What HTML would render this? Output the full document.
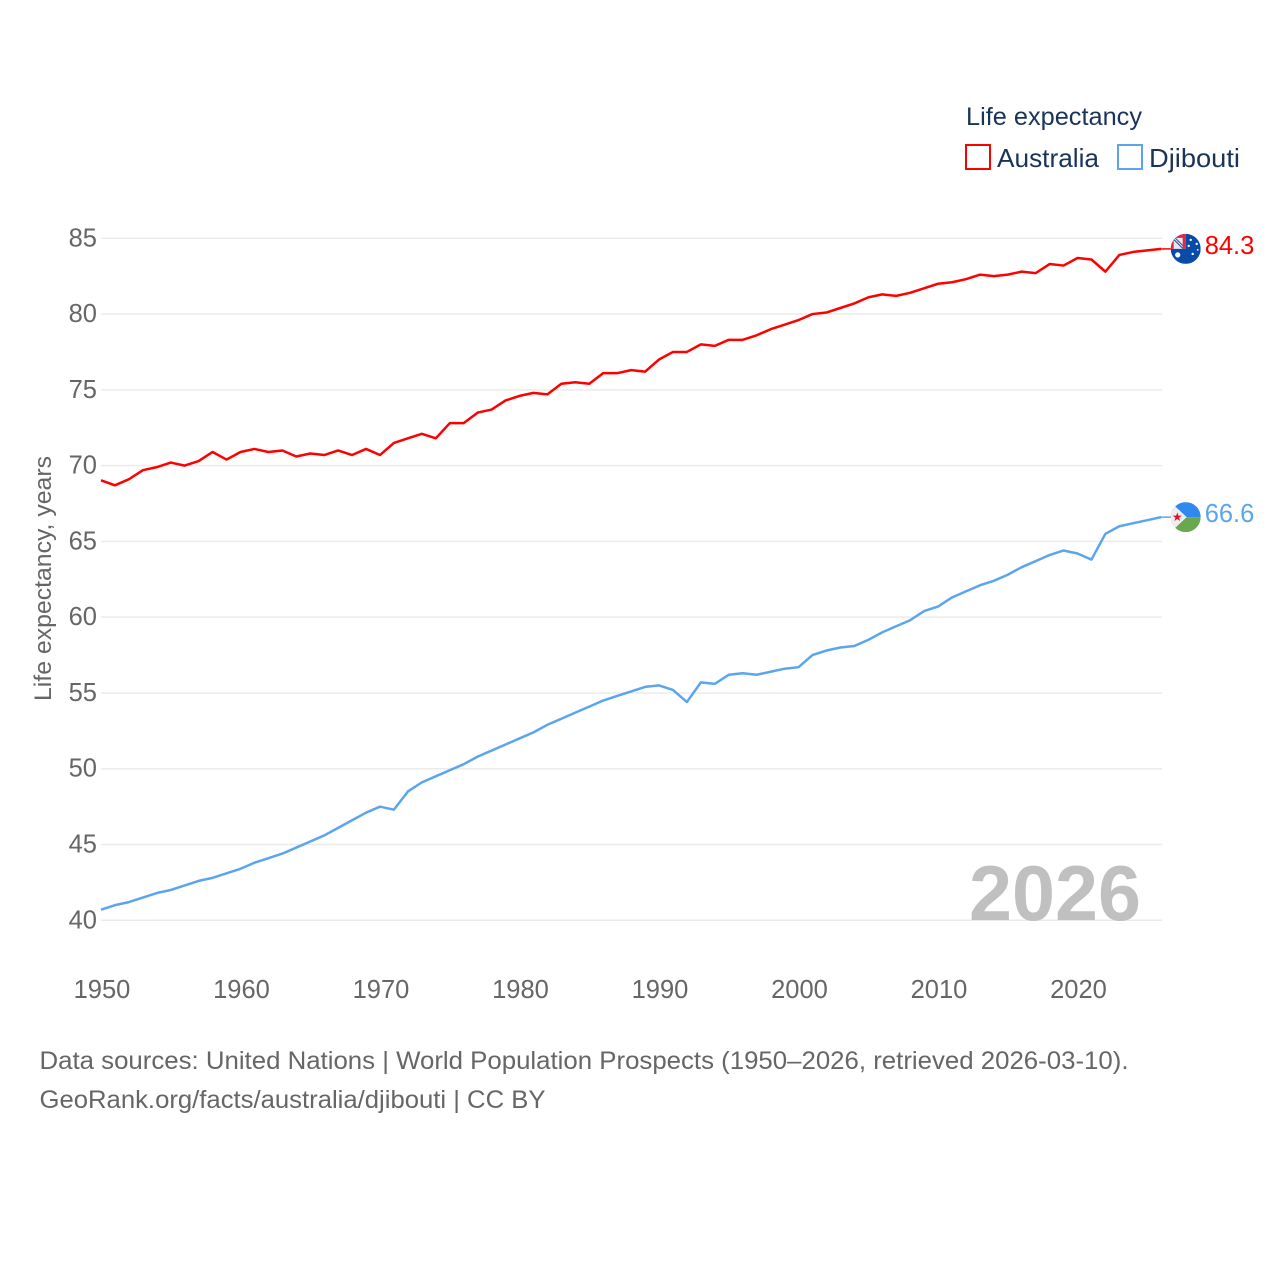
<!DOCTYPE html>
<html lang="en">
<head>
<meta charset="utf-8">
<title>Life expectancy: Australia and Djibouti</title>
<style>
html,body{margin:0;padding:0;background:#fff;width:1280px;height:1280px;overflow:hidden}
svg{display:block}
text{font-family:"Liberation Sans",sans-serif}
</style>
</head>
<body>
<svg id="chart" xmlns="http://www.w3.org/2000/svg" width="1280" height="1280" viewBox="0 0 1280 1280">
  <defs>
    <clipPath id="clip-au"><circle id="clip-au-circle" r="15"></circle></clipPath>
    <clipPath id="clip-dj"><circle id="clip-dj-circle" r="15"></circle></clipPath>
  </defs>
  <g id="grid"></g>
  <g id="ticks-y"></g>
  <g id="ticks-x"></g>
  <text transform="translate(51,701) rotate(-90)" font-size="24" fill="#666" textLength="245" lengthAdjust="spacingAndGlyphs">Life expectancy, years</text>
  <text x="969" y="920" font-size="78" font-weight="700" fill="#c0c0c0" textLength="172" lengthAdjust="spacingAndGlyphs">2026</text>
  <g id="series"></g>
  <g id="flag-au" clip-path="url(#clip-au)"></g>
  <g id="flag-dj" clip-path="url(#clip-dj)"></g>
  <g id="end-labels"></g>
  <g>
    <text x="966" y="125" font-size="25" fill="#1a3358" textLength="176" lengthAdjust="spacingAndGlyphs">Life expectancy</text>
    <g>
      <rect x="966" y="145" width="24" height="24" fill="#fff" stroke="#ff0000" stroke-width="2"></rect>
      <text x="997" y="167" font-size="26" fill="#1a3358" textLength="102" lengthAdjust="spacingAndGlyphs">Australia</text>
    </g>
    <g>
      <rect x="1118" y="145" width="24" height="24" fill="#fff" stroke="#5ca5ee" stroke-width="2"></rect>
      <text x="1149" y="167" font-size="26" fill="#1a3358" textLength="91" lengthAdjust="spacingAndGlyphs">Djibouti</text>
    </g>
  </g>
  <text x="39.5" y="1069" font-size="25" fill="#666" textLength="1089" lengthAdjust="spacingAndGlyphs">Data sources: United Nations | World Population Prospects (1950–2026, retrieved 2026-03-10).</text>
  <text x="39.5" y="1108" font-size="25" fill="#666" textLength="506" lengthAdjust="spacingAndGlyphs">GeoRank.org/facts/australia/djibouti | CC BY</text>
</svg>
<script>
const startYear = 1950;
const australiaValues = [69.03,68.7,69.1,69.7,69.9,70.2,70.0,70.3,70.9,70.4,70.9,71.1,70.9,71.0,70.6,70.8,70.7,71.0,70.7,71.1,70.7,71.5,71.8,72.1,71.8,72.8,72.8,73.5,73.7,74.3,74.6,74.8,74.7,75.4,75.5,75.4,76.1,76.1,76.3,76.2,77.0,77.5,77.5,78.0,77.9,78.3,78.3,78.6,79.0,79.3,79.6,80.0,80.1,80.4,80.7,81.1,81.3,81.2,81.4,81.7,82.0,82.1,82.3,82.6,82.5,82.6,82.8,82.7,83.3,83.2,83.7,83.6,82.8,83.9,84.1,84.2,84.3];
const djiboutiValues = [40.7,41.0,41.2,41.5,41.8,42.0,42.3,42.6,42.8,43.1,43.4,43.8,44.1,44.4,44.8,45.2,45.6,46.1,46.6,47.1,47.5,47.3,48.5,49.1,49.5,49.9,50.3,50.8,51.2,51.6,52.0,52.4,52.9,53.3,53.7,54.1,54.5,54.8,55.1,55.4,55.5,55.2,54.4,55.7,55.6,56.2,56.3,56.2,56.4,56.6,56.7,57.5,57.8,58.0,58.1,58.5,59.0,59.4,59.8,60.4,60.7,61.3,61.7,62.1,62.4,62.8,63.3,63.7,64.1,64.4,64.2,63.8,65.5,66.0,66.2,66.4,66.6];
const yTicks = [40,45,50,55,60,65,70,75,80,85];
const xTicks = [1950,1960,1970,1980,1990,2000,2010,2020];

const NS = 'http://www.w3.org/2000/svg';
const xScale = function (year) { return 101 + (year - 1950) * 13.95; };
const yScale = function (value) { return 920.3 - (value - 40) * 15.156; };

function make(tag, attrs, parent, content) {
  const el = document.createElementNS(NS, tag);
  Object.keys(attrs).forEach(function (k) { el.setAttribute(k, attrs[k]); });
  if (content !== undefined) el.textContent = content;
  parent.appendChild(el);
  return el;
}

const gridGroup = document.getElementById('grid');
const yTickGroup = document.getElementById('ticks-y');
const xTickGroup = document.getElementById('ticks-x');
const seriesGroup = document.getElementById('series');
const labelGroup = document.getElementById('end-labels');

yTicks.forEach(function (t) {
  const gridLine = make('line', {x1: 101, x2: 1162, y1: yScale(t), y2: yScale(t), stroke: '#ebebeb', 'stroke-width': 1.5}, gridGroup);
  
  
  const tickLabel = make('text', {x: 97, y: yScale(t) + 8, 'text-anchor': 'end', 'font-size': 25.5, fill: '#666'}, yTickGroup, String(t));
  
  
});

xTicks.forEach(function (t) {
  const tickLabel = make('text', {x: xScale(t) + 1, y: 998, 'text-anchor': 'middle', 'font-size': 25.5, fill: '#666'}, xTickGroup, String(t));
  
  
});

function linePoints(values) {
  return values.map(function (v, i) {
    return xScale(startYear + i).toFixed(2) + ',' + yScale(v).toFixed(2);
  }).join(' ');
}

const lastYear = startYear + australiaValues.length - 1;
const lastAu = australiaValues[australiaValues.length - 1];
const lastDj = djiboutiValues[djiboutiValues.length - 1];
const flagX = xScale(lastYear) + 24.5;

const auLine = make('polyline', {points: linePoints(australiaValues), fill: 'none', stroke: '#ff0000', 'stroke-width': 2.5, 'stroke-linejoin': 'round'}, seriesGroup);


const djLine = make('polyline', {points: linePoints(djiboutiValues), fill: 'none', stroke: '#5ca5ee', 'stroke-width': 2.5, 'stroke-linejoin': 'round'}, seriesGroup);


const auConnector = make('line', {x1: xScale(lastYear), x2: flagX - 14, y1: yScale(lastAu), y2: yScale(lastAu), stroke: '#ff0000', 'stroke-width': 1.5}, seriesGroup);


const djConnector = make('line', {x1: xScale(lastYear), x2: flagX - 14, y1: yScale(lastDj), y2: yScale(lastDj), stroke: '#5ca5ee', 'stroke-width': 1.5}, seriesGroup);



const auLabel = make('text', {x: flagX + 19, y: yScale(lastAu) + 5, 'font-size': 25.5, fill: '#ff0000'}, labelGroup, lastAu.toFixed(1));


const djLabel = make('text', {x: flagX + 19, y: yScale(lastDj) + 5, 'font-size': 25.5, fill: '#5ca5ee'}, labelGroup, lastDj.toFixed(1));



/* flags are positioned from the last data value */
const auY = yScale(lastAu);
const djY = yScale(lastDj);
const auClip = document.getElementById('clip-au-circle');
auClip.setAttribute('cx', flagX);
auClip.setAttribute('cy', auY);
const djClip = document.getElementById('clip-dj-circle');
djClip.setAttribute('cx', flagX);
djClip.setAttribute('cy', djY);

const auFlag = document.getElementById('flag-au');
make('rect', {x: flagX - 15, y: auY - 15, width: 30, height: 30, fill: '#0a4ba8'}, auFlag);
make('rect', {x: flagX - 15, y: auY - 15, width: 15, height: 15, fill: '#e8e8f0'}, auFlag);
make('line', {x1: flagX - 12, y1: auY - 11, x2: flagX - 2, y2: auY - 1, stroke: '#24499a', 'stroke-width': 3}, auFlag);
make('line', {x1: flagX - 12, y1: auY - 11, x2: flagX - 2, y2: auY - 1, stroke: '#e8e8f0', 'stroke-width': 1}, auFlag);
make('rect', {x: flagX - 15, y: auY - 15, width: 15, height: 4, fill: '#dc2a46'}, auFlag);
make('rect', {x: flagX - 3, y: auY - 15, width: 3, height: 15, fill: '#dc2a46'}, auFlag);
make('rect', {x: flagX - 15, y: auY - 15, width: 3, height: 15, fill: '#dc2a46'}, auFlag);
[[-8, 6, 2.6], [5, -9, 1.2], [11, -5, 1.2], [3, -3, 1.2], [7, 5, 1.2], [12, 1, 0.9]].forEach(function (s) {
  make('circle', {cx: flagX + s[0], cy: auY + s[1], r: s[2], fill: '#fff'}, auFlag);
});

const djFlag = document.getElementById('flag-dj');
make('rect', {x: flagX - 15, y: djY - 15, width: 30, height: 15, fill: '#2f89ee'}, djFlag);
make('rect', {x: flagX - 15, y: djY, width: 30, height: 15, fill: '#6aa84f'}, djFlag);
make('polygon', {points: (flagX - 15) + ',' + (djY - 15) + ' ' + (flagX + 1) + ',' + djY + ' ' + (flagX - 15) + ',' + (djY + 15), fill: '#eeeeee'}, djFlag);
make('text', {x: flagX - 8.5, y: djY + 4, 'font-size': 12, 'text-anchor': 'middle', fill: '#e01030', style: 'font-family:"DejaVu Sans",sans-serif'}, djFlag, '★');
</script>
</body>
</html>
